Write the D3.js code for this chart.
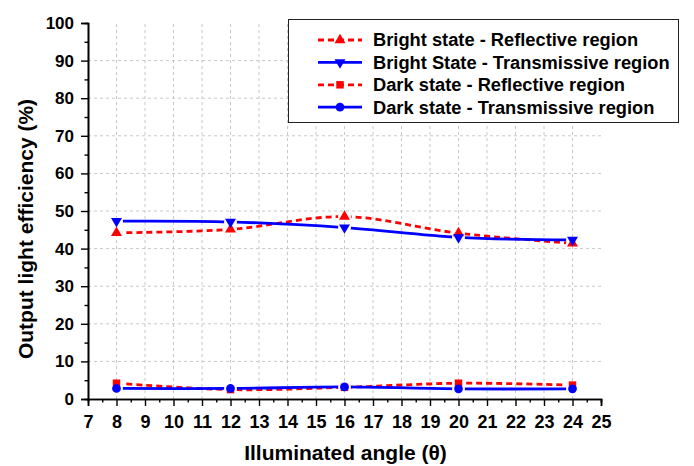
<!DOCTYPE html>
<html>
<head>
<meta charset="utf-8">
<script src="https://cdn.jsdelivr.net/npm/d3@7"></script>
<style>
  html, body { margin: 0; padding: 0; background: #fff; }
  svg { display: block; font-family: "Liberation Sans", Arial, sans-serif; }
</style>
</head>
<body>
<svg id="chart" width="694" height="466"></svg>
<script>
// ---- Data ----
const angles = [8, 12, 16, 20, 24];
const brightReflective = [44.2, 45.1, 48.5, 44.1, 41.4];
const brightTransmissive = [47.3, 47.1, 45.6, 43.0, 42.3];
const darkReflective = [4.2, 2.5, 3.1, 4.2, 3.7];
const darkTransmissive = [2.8, 2.8, 3.2, 2.7, 2.7];
const seriesNames = [
  "Bright state - Reflective region",
  "Bright State - Transmissive region",
  "Dark state - Reflective region",
  "Dark state - Transmissive region"
];
const xTicks = d3.range(7, 26, 1);
const yTicks = d3.range(0, 101, 10);
const xLabel = "Illuminated angle (\u03B8)";
const yLabel = "Output light efficiency (%)";

// ---- Styles ----
const RED = "#ff0000", BLUE = "#0000ff";
const styles = [
  { color: RED, dash: "6,4", symbol: d3.symbolTriangle, rot: 0, size: 52 },
  { color: BLUE, dash: null, symbol: d3.symbolTriangle, rot: 180, size: 52 },
  { color: RED, dash: "6,4", symbol: d3.symbolSquare, rot: 0, size: 56 },
  { color: BLUE, dash: null, symbol: d3.symbolCircle, rot: 0, size: 60 }
];
const allSeries = [brightReflective, brightTransmissive, darkReflective, darkTransmissive];

const svg = d3.select("#chart");
const x = d3.scaleLinear().domain([7, 25]).range([88, 601]);
const y = d3.scaleLinear().domain([0, 100]).range([399, 23]);

// Grid
const grid = svg.append("g");
grid.selectAll("line.v").data(xTicks.filter(t => t > 7 && t < 25)).join("line")
  .attr("x1", d => x(d)).attr("x2", d => x(d))
  .attr("y1", y(0)).attr("y2", y(100))
  .attr("stroke", "#c8c8c8").attr("stroke-width", 1).attr("stroke-dasharray", "3,3");
grid.selectAll("line.h").data(yTicks.filter(t => t > 0 && t < 100)).join("line")
  .attr("x1", x(7)).attr("x2", x(25))
  .attr("y1", d => y(d)).attr("y2", d => y(d))
  .attr("stroke", "#c8c8c8").attr("stroke-width", 1).attr("stroke-dasharray", "3,3");

// Axes
const xAxis = d3.axisBottom(x).tickValues(xTicks).tickFormat(d3.format("d")).tickSize(7).tickPadding(9);
const xMinor = d3.axisBottom(x).tickValues(d3.range(7.5, 25, 1)).tickFormat("").tickSize(3.5);
const yAxis = d3.axisLeft(y).tickValues(yTicks).tickFormat(d3.format("d")).tickSize(7).tickPadding(7);
const yMinor = d3.axisLeft(y).tickValues(d3.range(5, 100, 10)).tickFormat("").tickSize(3.5);

function styleAxis(g, fs) {
  g.select(".domain").attr("stroke", "#000").attr("stroke-width", 1.6);
  g.selectAll(".tick line").attr("stroke", "#000").attr("stroke-width", 1.4);
  g.selectAll(".tick text").attr("font-size", fs).attr("font-weight", "bold")
    .attr("fill", "#000").attr("font-family", "Liberation Sans, Arial, sans-serif");
}
svg.append("g").attr("transform", `translate(0,${y(0)})`).call(xMinor).call(styleAxis, 18);
svg.append("g").attr("transform", `translate(0,${y(0)})`).call(xAxis).call(styleAxis, 18);
svg.append("g").attr("transform", `translate(${x(7)},0)`).call(yMinor).call(styleAxis, 17);
svg.append("g").attr("transform", `translate(${x(7)},0)`).call(yAxis).call(styleAxis, 17);

// Axis labels
svg.append("text").attr("x", 345.5).attr("y", 460).attr("text-anchor", "middle")
  .attr("font-size", 21).attr("font-weight", "bold").text(xLabel);
svg.append("text").attr("transform", "translate(33,229) rotate(-90)").attr("text-anchor", "middle")
  .attr("font-size", 21).attr("font-weight", "bold").text(yLabel);

// Series (lines with small gaps around their own markers)
const defs = svg.append("defs");
const line = d3.line().x(d => x(d[0])).y(d => y(d[1])).curve(d3.curveCatmullRom.alpha(0.5));
allSeries.forEach((vals, i) => {
  const st = styles[i];
  const pts = angles.map((a, j) => [a, vals[j]]);
  const mask = defs.append("mask").attr("id", "gap" + i).attr("maskUnits", "userSpaceOnUse")
    .attr("x", 0).attr("y", 0).attr("width", 694).attr("height", 466);
  mask.append("rect").attr("width", 694).attr("height", 466).attr("fill", "#fff");
  mask.selectAll("circle").data(pts).join("circle")
    .attr("cx", d => x(d[0])).attr("cy", d => y(d[1])).attr("r", 6.5).attr("fill", "#000");
  svg.append("path").datum(pts).attr("d", line)
    .attr("fill", "none").attr("stroke", st.color).attr("stroke-width", 2.8)
    .attr("stroke-dasharray", st.dash).attr("mask", `url(#gap${i})`);
  svg.append("g").selectAll("path").data(pts).join("path")
    .attr("d", d3.symbol().type(st.symbol).size(st.size))
    .attr("transform", d => `translate(${x(d[0])},${y(d[1])}) rotate(${st.rot})`)
    .attr("fill", st.color);
});

// Legend
const lg = svg.append("g");
lg.append("rect").attr("x", 288.5).attr("y", 19.5).attr("width", 390).attr("height", 103)
  .attr("fill", "#fff").attr("stroke", "#222").attr("stroke-width", 1);
seriesNames.forEach((name, i) => {
  const st = styles[i];
  const cy = 40 + i * 22.4;
  lg.append("line").attr("x1", 318).attr("x2", 362).attr("y1", cy).attr("y2", cy)
    .attr("stroke", st.color).attr("stroke-width", 2.8).attr("stroke-dasharray", st.dash);
  lg.append("path").attr("d", d3.symbol().type(st.symbol).size(st.size))
    .attr("transform", `translate(340,${cy}) rotate(${st.rot})`).attr("fill", st.color);
  lg.append("text").attr("x", 373).attr("y", cy).attr("dy", "0.35em")
    .attr("font-size", 18.3).attr("font-weight", "bold").text(name);
});
</script>
</body>
</html>
